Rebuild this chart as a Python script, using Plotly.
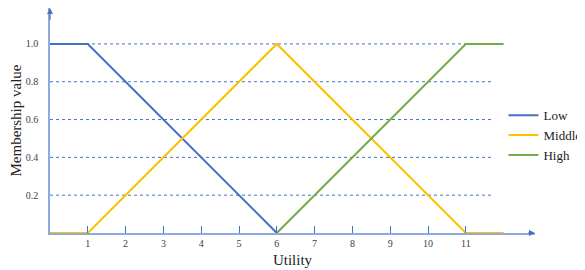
import plotly.graph_objects as go

utility_low = [0, 1, 6]
member_low = [1.0, 1.0, 0.0]
utility_mid = [0, 1, 6, 11, 12]
member_mid = [0.0, 0.0, 1.0, 0.0, 0.0]
utility_high = [6, 11, 12]
member_high = [0.0, 1.0, 1.0]
series_names = ["Low", "Middle", "High"]
colors = ["#4472C4", "#FFC000", "#70AD47"]
x_ticks = list(range(1, 12))
y_ticks = [0.2, 0.4, 0.6, 0.8, 1.0]

FONT = "Liberation Serif, Times New Roman, serif"
fig = go.Figure()
for xs, ys, name, c in zip([utility_low, utility_mid, utility_high],
                           [member_low, member_mid, member_high],
                           series_names, colors):
    fig.add_trace(go.Scatter(x=xs, y=ys, mode="lines", name=name,
                             line=dict(color=c, width=2), cliponaxis=False))

# dotted grid lines ending before the arrow
for yv in y_ticks:
    fig.add_shape(type="line", xref="x", yref="y", x0=0, x1=11.67, y0=yv, y1=yv,
                  line=dict(color="#4472C4", width=1, dash="dot"), layer="below")

# axis arrows
fig.add_annotation(x=12.83, y=0, ax=12.6, ay=0, xref="x", yref="y", axref="x", ayref="y",
                   showarrow=True, arrowhead=2, arrowsize=1, arrowwidth=1.2,
                   arrowcolor="#4472C4", text="")
fig.add_annotation(x=0, y=1.19, ax=0, ay=1.12, xref="x", yref="y", axref="x", ayref="y",
                   showarrow=True, arrowhead=2, arrowsize=1, arrowwidth=1.2,
                   arrowcolor="#4472C4", text="")

fig.update_layout(
    width=585, height=270,
    margin=dict(l=42, r=58, t=0, b=45, autoexpand=False),
    paper_bgcolor="white", plot_bgcolor="white",
    font=dict(family=FONT, color="#404040", size=10),
    showlegend=True,
    legend=dict(x=0.935, y=0.59, xanchor="left", yanchor="top",
                font=dict(family=FONT, size=13, color="#222222"),
                bgcolor="rgba(0,0,0,0)", tracegroupgap=5),
    xaxis=dict(range=[0, 12.83], tickvals=x_ticks, ticktext=[str(v) for v in x_ticks],
               ticks="inside", ticklen=7, tickcolor="#4472C4", tickwidth=1.2,
               showgrid=False, zeroline=False, showline=True, linecolor="#8FAADC",
               linewidth=1.5,
               title=dict(text="Utility", font=dict(family=FONT, size=15, color="#222222"), standoff=7)),
    yaxis=dict(range=[0, 1.19], tickvals=y_ticks, ticktext=[f"{v:.1f}" for v in y_ticks],
               ticks="", showgrid=False, zeroline=False, showline=True,
               linecolor="#8FAADC", linewidth=1.5, ticklabelstandoff=8,
               title=dict(text="Membership value", font=dict(family=FONT, size=15, color="#222222"), standoff=8)),
)
fig.write_html("out.html")
